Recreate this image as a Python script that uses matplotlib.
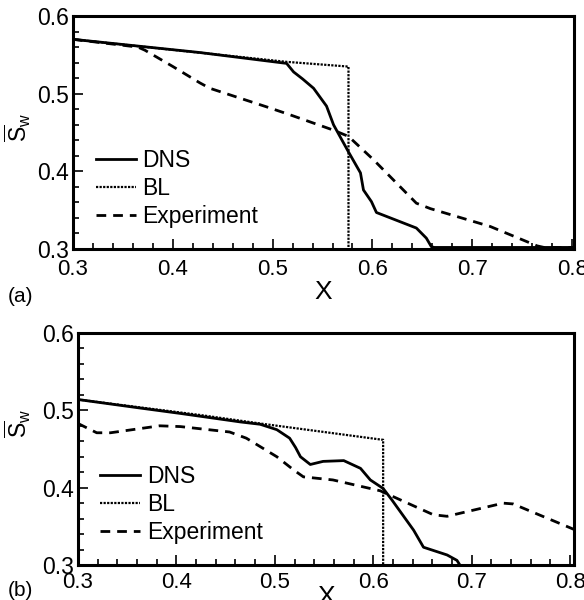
import matplotlib
matplotlib.use("Agg")
import matplotlib.pyplot as plt
from matplotlib.ticker import MultipleLocator

plt.rcParams['font.family'] = ['Liberation Sans', 'DejaVu Sans']
plt.rcParams['mathtext.fontset'] = 'custom'
plt.rcParams['mathtext.rm'] = 'Liberation Sans'
plt.rcParams['mathtext.it'] = 'Liberation Sans'

# ---- panel (a) ----
a_dns_x = [0.300, 0.427, 0.514, 0.521, 0.530, 0.541, 0.554, 0.561, 0.576, 0.588,
           0.591, 0.599, 0.604, 0.618, 0.644, 0.654, 0.659, 0.662, 0.802]
a_dns_y = [0.570, 0.553, 0.539, 0.528, 0.519, 0.507, 0.484, 0.460, 0.425, 0.398,
           0.376, 0.361, 0.347, 0.340, 0.327, 0.314, 0.303, 0.302, 0.302]
a_bl_x = [0.300, 0.514, 0.575, 0.576, 0.576]
a_bl_y = [0.570, 0.541, 0.535, 0.535, 0.300]
a_exp_x = [0.300, 0.365, 0.372, 0.400, 0.427, 0.437, 0.494, 0.517, 0.561, 0.576,
           0.601, 0.644, 0.658, 0.718, 0.765, 0.772, 0.802]
a_exp_y = [0.570, 0.560, 0.556, 0.535, 0.514, 0.507, 0.483, 0.473, 0.453, 0.445,
           0.415, 0.359, 0.352, 0.329, 0.304, 0.302, 0.302]

# ---- panel (b) ----
b_dns_x = [0.300, 0.363, 0.404, 0.465, 0.485, 0.502, 0.515, 0.521, 0.526, 0.536,
           0.549, 0.570, 0.587, 0.597, 0.610, 0.619, 0.641, 0.651, 0.675, 0.685, 0.688]
b_dns_y = [0.514, 0.503, 0.496, 0.485, 0.482, 0.475, 0.464, 0.452, 0.440, 0.430,
           0.434, 0.435, 0.425, 0.410, 0.399, 0.384, 0.345, 0.323, 0.313, 0.306, 0.300]
b_bl_x = [0.300, 0.424, 0.485, 0.609, 0.610, 0.610]
b_bl_y = [0.514, 0.494, 0.483, 0.462, 0.462, 0.300]
b_exp_x = [0.300, 0.319, 0.333, 0.383, 0.404, 0.454, 0.471, 0.502, 0.519, 0.529,
           0.559, 0.607, 0.661, 0.675, 0.732, 0.742, 0.804]
b_exp_y = [0.483, 0.471, 0.471, 0.480, 0.479, 0.472, 0.464, 0.440, 0.423, 0.414,
           0.410, 0.396, 0.365, 0.363, 0.380, 0.379, 0.346]

xticks = [0.3, 0.4, 0.5, 0.6, 0.7, 0.8]
yticks = [0.3, 0.4, 0.5, 0.6]


def style_ax(ax, xmax, xpad, xlabelpad, ylab_xy):
    ax.set_xlim(0.3, xmax)
    ax.set_ylim(0.3, 0.6)
    ax.set_xticks(xticks)
    ax.set_xticklabels([f"{v:.1f}" for v in xticks])
    ax.set_yticks(yticks)
    ax.set_yticklabels([f"{v:.1f}" for v in yticks])
    ax.xaxis.set_minor_locator(MultipleLocator(0.02))
    ax.yaxis.set_minor_locator(MultipleLocator(0.02))
    ax.tick_params(which='both', direction='in', top=False, right=False, width=1.2)
    ax.tick_params(which='major', length=7)
    ax.tick_params(which='minor', length=4)
    ax.tick_params(axis='x', labelsize=16, pad=xpad)
    ax.tick_params(axis='y', labelsize=16.5, pad=3)
    for sp in ax.spines.values():
        sp.set_linewidth(2.2)
    ax.set_xlabel('X', fontsize=19, labelpad=xlabelpad)
    ax.set_ylabel(r'$\mathregular{\overline{S}_w}$', fontsize=16.5)
    ax.yaxis.set_label_coords(*ylab_xy)


def draw(ax, dx, dy, bx, by, ex, ey):
    ax.plot(dx, dy, color='black', lw=2.0, ls='-', label='DNS')
    ax.plot(bx, by, color='black', lw=1.6, ls=(0, (1, 0.6)), label='BL')
    ax.plot(ex, ey, color='black', lw=2.0, ls=(0, (3.5, 2.5)), label='Experiment')
    ax.legend(loc='lower left', bbox_to_anchor=(0.045, 0.09), frameon=False,
              fontsize=16.5, handlelength=1.75, handletextpad=0.3,
              labelspacing=0.22, borderaxespad=0, borderpad=0)


fig = plt.figure(figsize=(5.84, 6.0), dpi=100)
ax1 = fig.add_axes([0.125, 0.585, 0.858, 0.3883])
ax2 = fig.add_axes([0.1336, 0.0583, 0.8494, 0.3867])

draw(ax1, a_dns_x, a_dns_y, a_bl_x, a_bl_y, a_exp_x, a_exp_y)
style_ax(ax1, 0.802, 7, 0, (-0.08, 0.52))
draw(ax2, b_dns_x, b_dns_y, b_bl_x, b_bl_y, b_exp_x, b_exp_y)
style_ax(ax2, 0.804, 5, -6, (-0.091, 0.61))

fig.text(8 / 584, 1 - 296 / 600, '(a)', fontsize=15, va='center', ha='left')
fig.text(8 / 584, 1 - 591 / 600, '(b)', fontsize=15, va='center', ha='left')

fig.savefig('out.png', dpi=100)
